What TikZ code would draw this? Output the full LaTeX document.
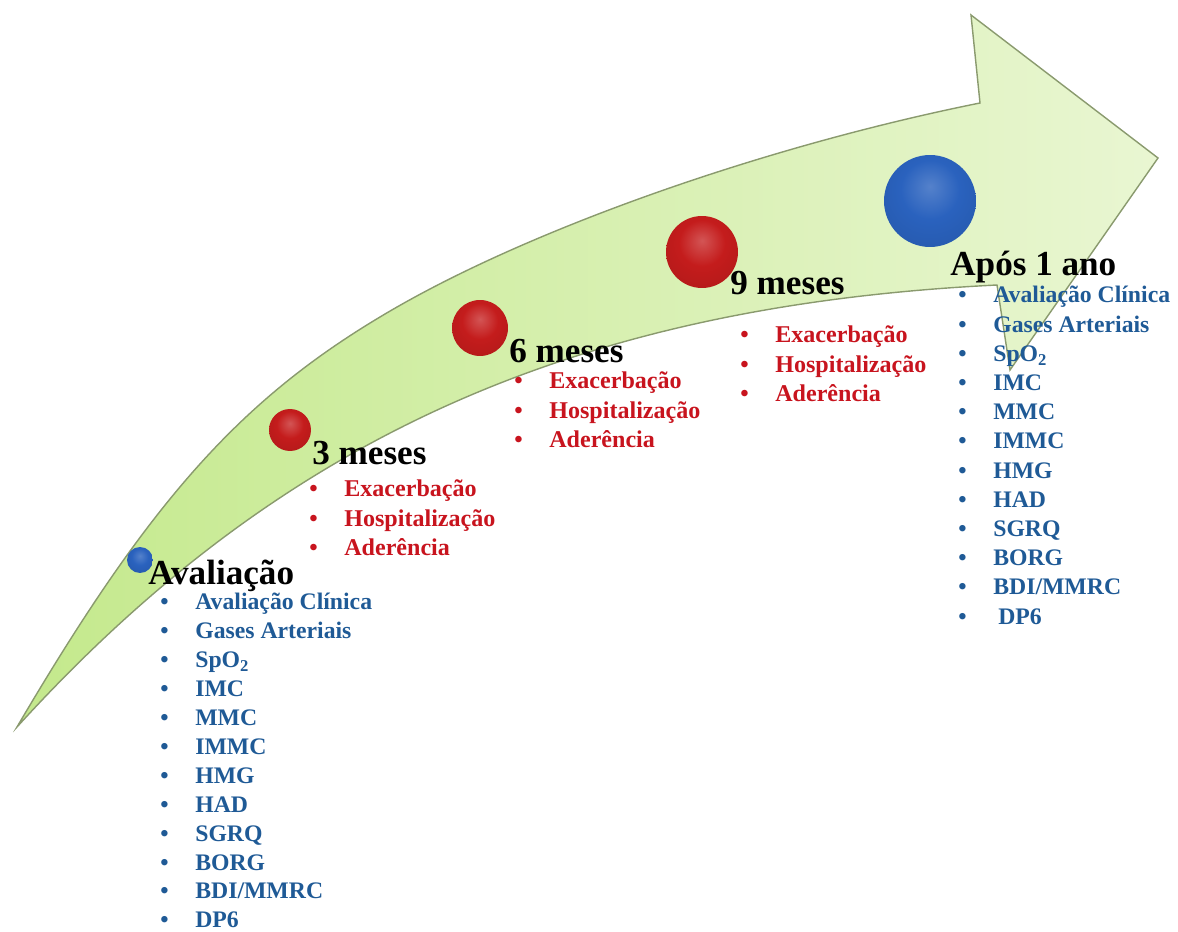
\documentclass[tikz,border=0pt]{standalone}
\usepackage{fontspec}
\setmainfont{Liberation Serif}
\usetikzlibrary{calc}
\definecolor{arrowleft}{HTML}{C4E98C}
\definecolor{arrowright}{HTML}{E9F6D2}
\definecolor{arrowline}{HTML}{8A9A6E}
\definecolor{itemblue}{HTML}{1F5A96}
\definecolor{itemred}{HTML}{C8141E}
\definecolor{ballred}{HTML}{C41C1C}
\definecolor{ballblue}{HTML}{2A62BE}
\pgfdeclareradialshading{redball}{\pgfpoint{0bp}{8bp}}{color(0bp)=(ballred!75!white); color(16bp)=(ballred); color(40bp)=(ballred!88!black); color(52bp)=(ballred!45!black); color(70bp)=(ballred!45!black)}
\pgfdeclareradialshading{blueball}{\pgfpoint{0bp}{8bp}}{color(0bp)=(ballblue!80!white); color(16bp)=(ballblue); color(40bp)=(ballblue!88!black); color(52bp)=(ballblue!45!black); color(70bp)=(ballblue!45!black)}
\tikzset{
  stage/.style={anchor=base west, inner sep=0pt, font=\bfseries\fontsize{20}{24}\selectfont},
  blueitem/.style={anchor=base west, inner sep=0pt, text=itemblue, font=\bfseries\fontsize{13.5}{16}\selectfont},
  reditem/.style={anchor=base west, inner sep=0pt, text=itemred, font=\bfseries\fontsize{13.7}{16}\selectfont},
  sphere/.style={circle, inner sep=0pt, minimum size=#1},
}
\newcommand{\bul}[1]{\makebox[0.7cm][l]{\textbullet}#1}

\begin{document}
\begin{tikzpicture}[x=0.02cm, y=-0.02cm]
		\useasboundingbox (0,0) rectangle (1178,932);
		
		%%%%% ARROW %%%%%
		\draw[arrowline, line width=0.8pt, left color=arrowleft, right color=arrowright]
		(17,727)
		.. controls (148,504) and (238,402) .. (380,317)
		.. controls (521,232) and (761,147) .. (980,103)
		-- (971,15) -- (1158,158) -- (1010,370) -- (997,285)
		.. controls (573,306) and (279,439) .. (17,727)
		-- cycle;
		
		%%%%% SPHERES %%%%%
		\node[sphere=0.52cm, shading=blueball] (b0) at (140,560) {};
		\node[sphere=0.84cm, shading=redball] (b3) at (290,430) {};
		\node[sphere=1.12cm, shading=redball] (b6) at (480,328) {};
		\node[sphere=1.44cm, shading=redball] (b9) at (702,252) {};
		\node[sphere=1.84cm, shading=blueball] (b12) at (930,201) {};
		
		%%%%% STAGES %%%%%
		\node[stage] (avaliacao) at (148,585) {Avaliação};
		\node[stage] (tres) at (312,465) {3 meses};
		\node[stage] (seis) at (509,363) {6 meses};
		\node[stage] (nove) at (730,295) {9 meses};
		\node[stage] (ano) at (950,276) {Após 1 ano};
		
		%%%%% RED LISTS %%%%%
		\foreach \sx/\sy/\nm in {309/497/tr, 514/389/se, 740/343/no}{
			\foreach \t [count=\i from 0] in {Exacerbação, Hospitalização, Aderência}
				\node[reditem] (\nm\i) at (\sx,{\sy+29.5*\i}) {\bul{\t}};
		}
		
		%%%%% BLUE LISTS %%%%%
		\foreach \t [count=\i from 0] in {Avaliação Clínica, Gases Arteriais, SpO\textsubscript{2}, IMC, MMC, IMMC, HMG, HAD, SGRQ, BORG, BDI/MMRC, DP6}
			\node[blueitem] (av\i) at (160,{610+28.9*\i}) {\bul{\t}};
		\foreach \t [count=\i from 0] in {Avaliação Clínica, Gases Arteriais, SpO\textsubscript{2}, IMC, MMC, IMMC, HMG, HAD, SGRQ, BORG, BDI/MMRC, \hspace{0.1cm}DP6}
			\node[blueitem] (an\i) at (958,{303+29.2*\i}) {\bul{\t}};
		
	\end{tikzpicture}
\end{document}
